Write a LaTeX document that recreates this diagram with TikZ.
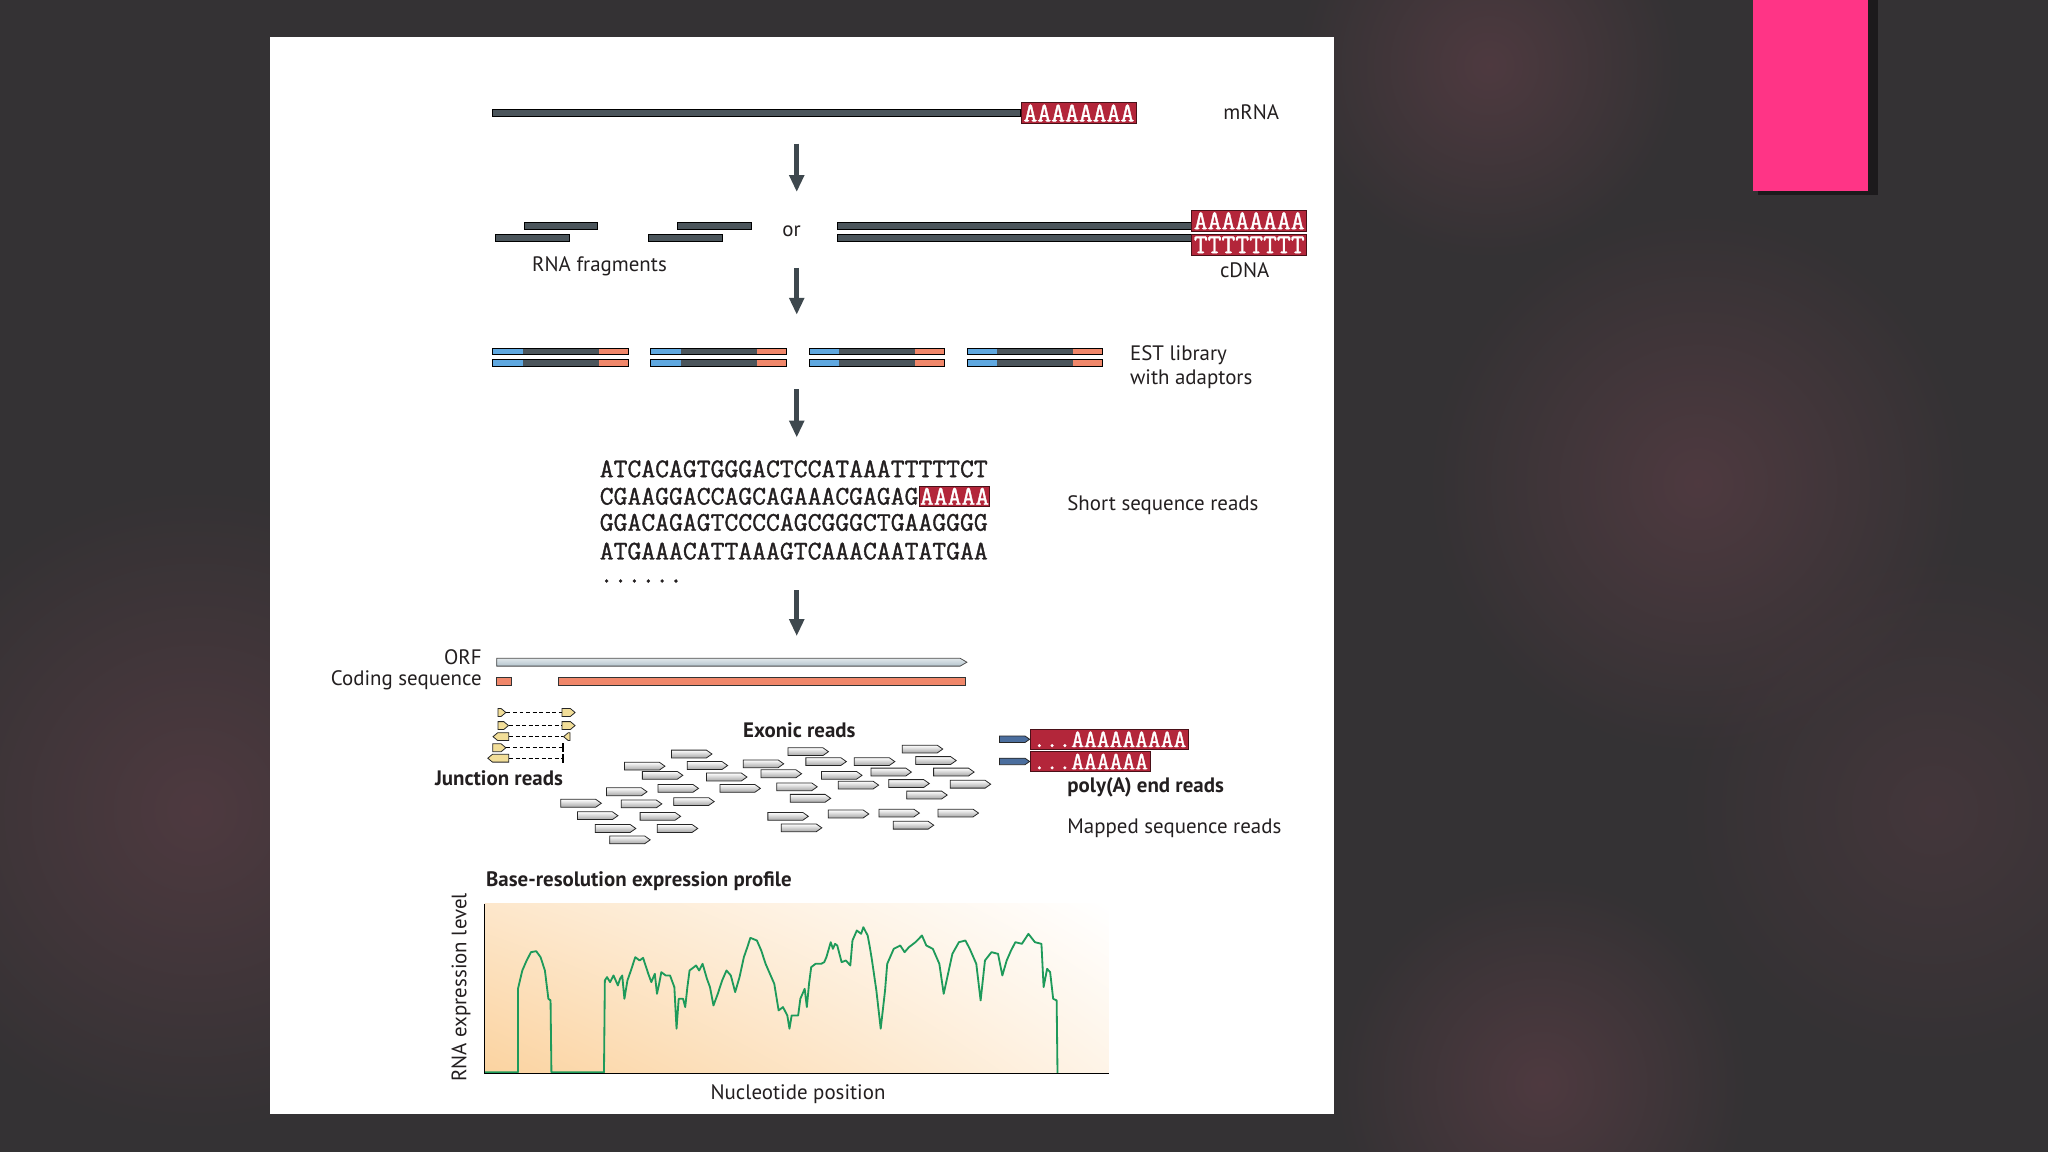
\documentclass[tikz,border=0pt]{standalone}
\usepackage{fontspec}
\setmainfont{PT Sans}
\newfontfamily\seqfont{Latin Modern Mono}[FakeBold=1.3]
\usetikzlibrary{arrows.meta, positioning, shapes.symbols, shadings, fadings}

\definecolor{bgdark}{HTML}{343234}
\definecolor{bgglow}{HTML}{553C43}
\definecolor{pinkbar}{HTML}{FF3486}
\definecolor{pinkshadow}{HTML}{1C1A1C}
\definecolor{ink}{HTML}{231F20}
\definecolor{strand}{HTML}{4B555B}
\definecolor{arrowgray}{HTML}{3E484E}
\definecolor{polyred}{HTML}{B3263A}
\definecolor{polydark}{HTML}{4A1018}
\definecolor{adblue}{HTML}{5FA8E0}
\definecolor{adorange}{HTML}{F0876A}
\definecolor{orfgray}{HTML}{B4C4CD}
\definecolor{junc}{HTML}{F2DE98}
\definecolor{endblue}{HTML}{4B6E9E}
\definecolor{curve}{HTML}{1E9A5A}
\definecolor{peach}{HTML}{FBD3A0}
\tikzfading[name=glowfade, inner color=transparent!20, outer color=transparent!100]

\begin{document}
\begin{tikzpicture}[
  x=1pt, y=-1pt, >={Triangle[width=11pt,length=13pt]},
  every node/.style={text=ink},
  lbl/.style={font=\fontsize{16}{18}\selectfont, inner sep=0pt},
  boldlbl/.style={lbl, font=\bfseries\fontsize{16}{18}\selectfont},
  flow/.style={->, line width=3.5pt, draw=arrowgray},
  glow/.style={fill=bgglow, path fading=glowfade},
  strandbar/.style={draw=black, line width=0.6pt, fill=strand, minimum height=5pt, inner sep=0pt, anchor=west},
  polybox/.style={draw=polydark, line width=0.8pt, fill=polyred, text=white,
    font=\seqfont\fontsize{20.6}{20}\selectfont, inner xsep=1.6pt, inner ysep=0pt,
    minimum height=16pt, anchor=west},
  seq/.style={font=\seqfont\fontsize{20.6}{22}\selectfont, inner sep=0pt, anchor=west},
  estbar/.style={strandbar, minimum width=104pt, path picture={
    \fill[adblue] (path picture bounding box.south west) rectangle ([xshift=23pt]path picture bounding box.north west);
    \fill[adorange] (path picture bounding box.south east) rectangle ([xshift=-23pt]path picture bounding box.north east);}},
  exread/.style={signal, signal to=east, signal pointer angle=70, draw=black!85, line width=0.6pt,
    top color=white, bottom color=gray!70, minimum width=31pt, minimum height=6pt, inner sep=0pt, anchor=west},
  jread/.style={signal, signal pointer angle=80, draw=black!85, line width=0.6pt, fill=junc,
    minimum height=6pt, inner sep=0pt, anchor=west},
  jstop/.style={fill=black, minimum width=1.8pt, minimum height=7pt, inner sep=0pt},
  jdash/.style={dashed, dash pattern=on 3pt off 2pt, line width=0.8pt},
  endread/.style={signal, signal to=east, signal pointer angle=70, draw=black!85, line width=0.6pt,
    fill=endblue, minimum width=23pt, minimum height=5pt, inner sep=0pt, anchor=west},
  orfbar/.style={signal, signal to=east, signal pointer angle=60, draw=black!70, line width=0.6pt,
    top color=orfgray!40, bottom color=orfgray, minimum height=6pt, inner sep=0pt, anchor=west},
  cdsbar/.style={draw=black!80, line width=0.6pt, fill=adorange, minimum height=6pt, inner sep=0pt, anchor=west},
  ]

  \useasboundingbox (0,0) rectangle (1568,882);
  \clip (0,0) rectangle (1568,882);
  \fill[bgdark] (0,0) rectangle (1568,882);
  \fill[glow] (150,620) circle (250);
  \fill[glow] (1140,50) circle (150);
  \fill[glow] (1300,370) circle (210);
  \fill[glow] (1180,830) circle (160);
  \fill[glow, opacity=0.6] (1480,620) circle (200);
  \fill[pinkshadow] (1430,0) rectangle (1438,149);
  \fill[pinkshadow] (1346,146) rectangle (1438,149);
  \fill[pinkbar] (1342,0) rectangle (1430,146);
  \fill[white] (207,28) rectangle (1021,853);

  \node[strandbar, minimum width=404pt] (mrna) at (377,86.5) {};
  \node[polybox] (mrnaA) at (mrna.east) {AAAAAAAA};
  \node[lbl] (mrnalbl) at (958,86) {mRNA};

  \coordinate (a1s) at (610,110);
  \coordinate (a1e) at (610,147);
  \draw[flow] (a1s) -- (a1e);

  \node[strandbar, minimum width=56pt] (frag1) at (401,173) {};
  \node[strandbar, minimum width=57pt] (frag2) at (379,182) {};
  \node[strandbar, minimum width=57pt] (frag3) at (518,173) {};
  \node[strandbar, minimum width=57pt] (frag4) at (496,182) {};
  \node[lbl] (fraglbl) at (459,204) {RNA fragments};
  \node[lbl] (orlbl) at (606,177) {or};
  \node[strandbar, minimum width=271pt] (cdnat) at (641,173) {};
  \node[strandbar, minimum width=271pt] (cdnab) at (641,182) {};
  \node[polybox] (cdnaA) at (912,169) {AAAAAAAA};
  \node[polybox] (cdnaT) at (912,187.5) {TTTTTTTT};
  \node[lbl] (cdnalbl) at (953,207) {cDNA};

  \coordinate (a2s) at (610,205);
  \coordinate (a2e) at (610,241);
  \draw[flow] (a2s) -- (a2e);

  \foreach \x [count=\i] in {377,498,619,740} {
    \node[estbar] (estt\i) at (\x,269) {};
    \node[estbar] (estb\i) at (\x,278) {};
  }
  \node[lbl, anchor=west, align=left] (estlbl) at (865,281) {EST library\\with adaptors};

  \coordinate (a3s) at (610,298);
  \coordinate (a3e) at (610,335);
  \draw[flow] (a3s) -- (a3e);

  \node[seq] (seq1) at (459,359) {ATCACAGTGGGACTCCATAAATTTTTCT};
  \node[seq] (seq2) at (459,380) {CGAAGGACCAGCAGAAACGAGAG};
  \node[polybox, minimum height=15pt, inner xsep=0.5pt] (seq2A) at (seq2.east) {AAAAA};
  \node[seq] (seq3) at (459,400) {GGACAGAGTCCCCAGCGGGCTGAAGGGG};
  \node[seq] (seq4) at (459,422) {ATGAAACATTAAAGTCAAACAATATGAA};
  \node[seq, anchor=base west] (seqdots) at (459,446) {......};
  \node[lbl, anchor=west] (seqlbl) at (817,387) {Short sequence reads};

  \coordinate (a4s) at (610,452);
  \coordinate (a4e) at (610,487);
  \draw[flow] (a4s) -- (a4e);

  \node[orfbar, minimum width=360pt] (orf) at (380,507) {};
  \node[lbl, anchor=east] (orflbl) at (369,503) {ORF};
  \node[cdsbar, minimum width=11pt] (cds1) at (380,522) {};
  \node[cdsbar, minimum width=312pt] (cds2) at (427,522) {};
  \node[lbl, anchor=east] (cdslbl) at (369,521) {Coding sequence};

  \node[jread, signal to=east, minimum width=6pt] (j1a) at (381,545.5) {};
  \node[jread, signal to=east, minimum width=10pt] (j1b) at (430,545.5) {};
  \node[jread, signal to=east, minimum width=8pt] (j2a) at (381,555.5) {};
  \node[jread, signal to=east, minimum width=10pt] (j2b) at (430,555.5) {};
  \node[jread, signal to=west, minimum width=12pt] (j3a) at (377,564) {};
  \node[jread, signal to=west, minimum width=5pt] (j3b) at (431,564) {};
  \node[jread, signal to=east, minimum width=10pt] (j4a) at (377,572.5) {};
  \node[jstop] (j4b) at (431,572.5) {};
  \node[jread, signal to=west, minimum width=16pt] (j5a) at (373,580.5) {};
  \node[jstop] (j5b) at (431,580.5) {};
  \draw[jdash] (j1a) -- (j1b);
  \draw[jdash] (j2a) -- (j2b);
  \draw[jdash] (j3a) -- (j3b);
  \draw[jdash] (j4a) -- (j4b);
  \draw[jdash] (j5a) -- (j5b);
  \node[boldlbl] (junclbl) at (382,596) {Junction reads};

  \node[boldlbl] (exlbl) at (612,559) {Exonic reads};
  \foreach \x/\y [count=\i] in {513.8/577.3, 603/575.5, 690.5/573.5, 477.8/586.6, 525.8/586.1,
      568.7/584.8, 616.7/583.1, 653.8/583.1, 700.8/582.3, 491.5/593.6, 540.6/594.9, 582.4/592.4,
      628.7/593.6, 666.5/591.1, 714.5/591.1, 503.5/603.6, 550.9/603.6, 594.4/602.4, 641.4/601.1,
      680.2/599.9, 727.2/600.4, 464.1/606.2, 604.7/611.2, 693.9/608.7, 429.1/615, 475.4/615.5,
      515.5/613.7, 441.8/624.5, 489.8/625, 587.6/625, 633.9/623.2, 672.6/622.5, 717.9/622.5,
      455.5/634.3, 502.9/634.3, 597.9/633.8, 683.6/631.8, 466.5/643}
    \node[exread] (ex\i) at (\x,\y) {};

  \node[endread] (end1) at (765,566) {};
  \node[polybox, font=\seqfont\fontsize{19}{18}\selectfont, minimum height=15pt] (end1A) at (end1.east) {...AAAAAAAAA};
  \node[endread] (end2) at (765,583) {};
  \node[polybox, font=\seqfont\fontsize{19}{18}\selectfont, minimum height=15pt] (end2A) at (end2.east) {...AAAAAA};
  \node[boldlbl, anchor=west] (endlbl) at (817,603) {poly(A) end reads};
  \node[lbl, anchor=west] (maplbl) at (817,634) {Mapped sequence reads};

  \node[boldlbl, anchor=west] (proflbl) at (372,675) {Base-resolution expression profile};
  \coordinate (origin) at (371,822);
  \coordinate (ytop) at (371,692);
  \coordinate (xend) at (849,822);
  \shade[upper left=peach!55, lower left=peach, upper right=white, lower right=peach!25] (ytop) rectangle (xend);
  \begin{scope}[shift={(336.7,658.9)}, x=0.3326pt, y=-0.2549pt]
    \draw[curve, line width=1.4pt, line join=round] (103,636) -- (180,636) -- (180,385) -- (190,330) -- (200,300)
      -- (210,275) -- (222,272) -- (232,290) -- (242,330) -- (250,415) -- (255,420) -- (257,636) -- (378,636)
      -- (380,360) -- (385,350) -- (392,365) -- (400,345) -- (410,375) -- (415,355) -- (420,345) -- (425,415)
      -- (432,360) -- (440,330) -- (450,290) -- (460,300) -- (468,292) -- (475,320) -- (480,340) -- (487,365)
      -- (495,340) -- (500,400) -- (505,370) -- (510,335) -- (520,345) -- (530,345) -- (540,380) -- (545,505)
      -- (550,415) -- (560,415) -- (565,440) -- (570,380) -- (575,330) -- (590,315) -- (597,330) -- (605,310)
      -- (615,355) -- (622,380) -- (630,435) -- (640,400) -- (650,360) -- (660,330) -- (670,345) -- (680,395)
      -- (690,350) -- (700,290) -- (708,260) -- (715,232) -- (730,240) -- (740,270) -- (750,310) -- (760,340)
      -- (770,370) -- (780,450) -- (790,440) -- (800,465) -- (805,505) -- (810,465) -- (825,465) -- (830,415)
      -- (840,385) -- (845,440) -- (850,370) -- (855,320) -- (865,310) -- (878,310) -- (885,305) -- (890,290)
      -- (900,245) -- (905,265) -- (910,250) -- (915,255) -- (925,305) -- (935,300) -- (945,315) -- (950,240)
      -- (960,210) -- (970,220) -- (975,200) -- (985,225) -- (990,260) -- (995,300) -- (1005,390) -- (1015,505)
      -- (1025,390) -- (1030,310) -- (1045,265) -- (1060,255) -- (1070,275) -- (1080,260) -- (1095,245)
      -- (1110,225) -- (1120,255) -- (1135,265) -- (1150,310) -- (1160,400) -- (1170,340) -- (1180,280)
      -- (1195,245) -- (1210,240) -- (1220,265) -- (1235,310) -- (1245,420) -- (1255,300) -- (1270,275)
      -- (1285,280) -- (1295,345) -- (1305,300) -- (1315,270) -- (1325,245) -- (1340,250) -- (1355,220)
      -- (1370,245) -- (1385,250) -- (1390,380) -- (1398,325) -- (1405,335) -- (1412,415) -- (1420,420)
      -- (1422,640);
  \end{scope}
  \draw[black, line width=1.3pt] (ytop) -- (origin) -- (xend);
  \node[lbl, rotate=90] (ylbl) at (353,756) {RNA expression level};
  \node[lbl] (xlbl) at (611,838) {Nucleotide position};
\end{tikzpicture}
\end{document}
